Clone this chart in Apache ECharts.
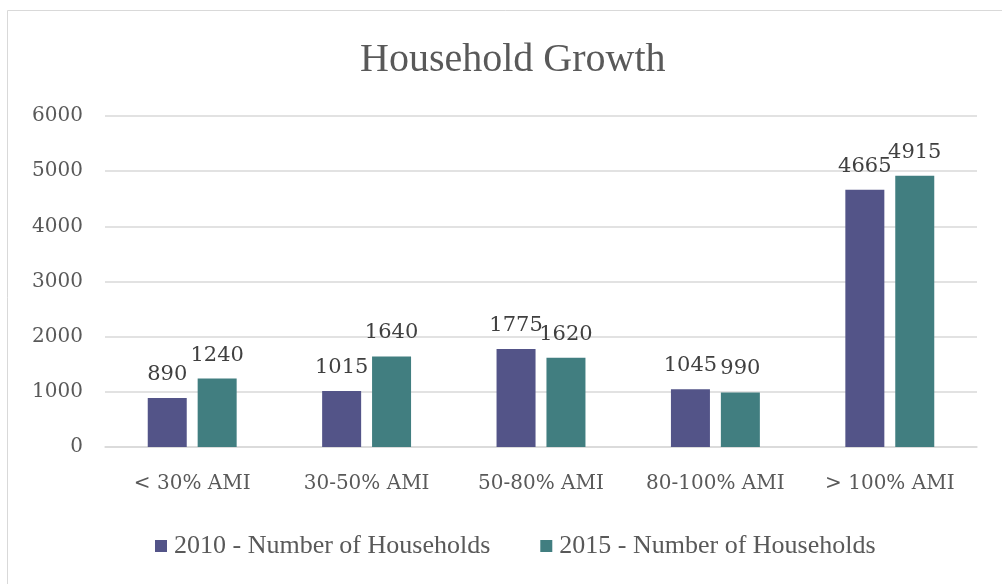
<!DOCTYPE html>
<html>
<head>
<meta charset="utf-8">
<script src="https://cdn.jsdelivr.net/npm/echarts@6/dist/echarts.min.js"></script>
<style>
  html, body { margin: 0; padding: 0; background: #fff; }
  #chart { width: 1002px; height: 584px; }
</style>
</head>
<body>
<div id="chart"></div>
<script>
  const categories = ['< 30% AMI', '30-50% AMI', '50-80% AMI', '80-100% AMI', '> 100% AMI'];
  const households2010 = [890, 1015, 1775, 1045, 4665];
  const households2015 = [1240, 1640, 1620, 990, 4915];
  const seriesNames = ['2010 - Number of Households', '2015 - Number of Households'];

  const numFont = 'DejaVu Serif';
  const textFont = 'Liberation Serif';

  const chart = echarts.init(document.getElementById('chart'));

  const labelStyle = {
    show: true,
    position: 'top',
    distance: 13,
    color: '#404040',
    fontFamily: numFont,
    fontSize: 21,
  };

  chart.setOption({
    animation: false,
    graphic: [
      {
        type: 'rect',
        shape: { x: 7.5, y: 10.5, width: 1100, height: 700 },
        style: { fill: 'none', stroke: '#d9d9d9', lineWidth: 1 },
      },
    ],
    title: {
      text: 'Household Growth',
      left: 355,
      top: 35,
      textStyle: {
        fontFamily: textFont,
        fontSize: 40,
        fontWeight: 'normal',
        color: '#595959',
      },
    },
    legend: {
      data: seriesNames,
      left: 150,
      top: 528,
      icon: 'rect',
      itemWidth: 12,
      itemHeight: 12,
      itemGap: 50,
      textStyle: {
        fontFamily: textFont,
        fontSize: 26,
        color: '#595959',
        padding: [0, 0, 0, 2],
      },
    },
    grid: {
      left: 105,
      right: 25,
      top: 116,
      bottom: 137,
    },
    xAxis: {
      type: 'category',
      data: categories,
      axisLine: { lineStyle: { color: '#d9d9d9', width: 1.5 } },
      axisTick: { show: false },
      axisLabel: {
        interval: 0,
        hideOverlap: false,
        margin: 27,
        color: '#595959',
        fontFamily: numFont,
        fontSize: 20,
      },
    },
    yAxis: {
      type: 'value',
      min: 0,
      max: 6000,
      interval: 1000,
      axisLine: { show: false },
      axisTick: { show: false },
      splitLine: { lineStyle: { color: '#d9d9d9', width: 1.5 } },
      axisLabel: {
        margin: 22,
        color: '#595959',
        fontFamily: numFont,
        fontSize: 20,
        padding: [6, 0, 0, 0],
        formatter: (v) => String(v),
      },
    },
    series: [
      {
        name: seriesNames[0],
        type: 'bar',
        data: households2010,
        barWidth: 39,
        barGap: '28%',
        itemStyle: { color: '#535488' },
        label: labelStyle,
      },
      {
        name: seriesNames[1],
        type: 'bar',
        data: households2015,
        barWidth: 39,
        barGap: '28%',
        itemStyle: { color: '#417e80' },
        label: labelStyle,
      },
    ],
  });
</script>
</body>
</html>
